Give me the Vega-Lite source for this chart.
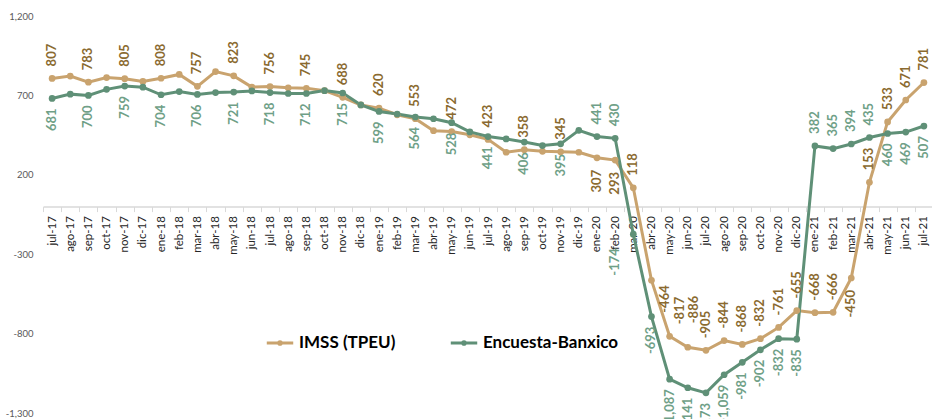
{
  "$schema": "https://vega.github.io/schema/vega-lite/v6.json",
  "autosize": {"type": "none"},
  "width": 890,
  "height": 397,
  "padding": {"left": 43, "top": 16, "right": 0, "bottom": 6},
  "background": "white",
  "config": {
    "view": {"stroke": null},
    "font": "Lato",
    "locale": {"number": {"decimal": ".", "thousands": ",", "grouping": [3], "currency": ["$", ""], "minus": "-"}}
  },
  "data": {"values": [
    {"i":0,"mes":"jul-17","IMSS (TPEU)":807,"Encuesta-Banxico":681},
    {"i":1,"mes":"ago-17","IMSS (TPEU)":822,"Encuesta-Banxico":708},
    {"i":2,"mes":"sep-17","IMSS (TPEU)":783,"Encuesta-Banxico":700},
    {"i":3,"mes":"oct-17","IMSS (TPEU)":812,"Encuesta-Banxico":738},
    {"i":4,"mes":"nov-17","IMSS (TPEU)":805,"Encuesta-Banxico":759},
    {"i":5,"mes":"dic-17","IMSS (TPEU)":788,"Encuesta-Banxico":752},
    {"i":6,"mes":"ene-18","IMSS (TPEU)":808,"Encuesta-Banxico":704},
    {"i":7,"mes":"feb-18","IMSS (TPEU)":832,"Encuesta-Banxico":724},
    {"i":8,"mes":"mar-18","IMSS (TPEU)":757,"Encuesta-Banxico":706},
    {"i":9,"mes":"abr-18","IMSS (TPEU)":850,"Encuesta-Banxico":718},
    {"i":10,"mes":"may-18","IMSS (TPEU)":823,"Encuesta-Banxico":721},
    {"i":11,"mes":"jun-18","IMSS (TPEU)":752,"Encuesta-Banxico":728},
    {"i":12,"mes":"jul-18","IMSS (TPEU)":756,"Encuesta-Banxico":718},
    {"i":13,"mes":"ago-18","IMSS (TPEU)":748,"Encuesta-Banxico":712},
    {"i":14,"mes":"sep-18","IMSS (TPEU)":745,"Encuesta-Banxico":712},
    {"i":15,"mes":"oct-18","IMSS (TPEU)":730,"Encuesta-Banxico":730},
    {"i":16,"mes":"nov-18","IMSS (TPEU)":688,"Encuesta-Banxico":715},
    {"i":17,"mes":"dic-18","IMSS (TPEU)":640,"Encuesta-Banxico":640},
    {"i":18,"mes":"ene-19","IMSS (TPEU)":620,"Encuesta-Banxico":599},
    {"i":19,"mes":"feb-19","IMSS (TPEU)":578,"Encuesta-Banxico":583},
    {"i":20,"mes":"mar-19","IMSS (TPEU)":553,"Encuesta-Banxico":564},
    {"i":21,"mes":"abr-19","IMSS (TPEU)":478,"Encuesta-Banxico":553},
    {"i":22,"mes":"may-19","IMSS (TPEU)":472,"Encuesta-Banxico":528},
    {"i":23,"mes":"jun-19","IMSS (TPEU)":452,"Encuesta-Banxico":470},
    {"i":24,"mes":"jul-19","IMSS (TPEU)":423,"Encuesta-Banxico":441},
    {"i":25,"mes":"ago-19","IMSS (TPEU)":342,"Encuesta-Banxico":426},
    {"i":26,"mes":"sep-19","IMSS (TPEU)":358,"Encuesta-Banxico":406},
    {"i":27,"mes":"oct-19","IMSS (TPEU)":348,"Encuesta-Banxico":384},
    {"i":28,"mes":"nov-19","IMSS (TPEU)":345,"Encuesta-Banxico":395},
    {"i":29,"mes":"dic-19","IMSS (TPEU)":342,"Encuesta-Banxico":480},
    {"i":30,"mes":"ene-20","IMSS (TPEU)":307,"Encuesta-Banxico":441},
    {"i":31,"mes":"feb-20","IMSS (TPEU)":293,"Encuesta-Banxico":430},
    {"i":32,"mes":"mar-20","IMSS (TPEU)":118,"Encuesta-Banxico":-174},
    {"i":33,"mes":"abr-20","IMSS (TPEU)":-464,"Encuesta-Banxico":-693},
    {"i":34,"mes":"may-20","IMSS (TPEU)":-817,"Encuesta-Banxico":-1087},
    {"i":35,"mes":"jun-20","IMSS (TPEU)":-886,"Encuesta-Banxico":-1141},
    {"i":36,"mes":"jul-20","IMSS (TPEU)":-905,"Encuesta-Banxico":-1173},
    {"i":37,"mes":"ago-20","IMSS (TPEU)":-844,"Encuesta-Banxico":-1059},
    {"i":38,"mes":"sep-20","IMSS (TPEU)":-868,"Encuesta-Banxico":-981},
    {"i":39,"mes":"oct-20","IMSS (TPEU)":-832,"Encuesta-Banxico":-902},
    {"i":40,"mes":"nov-20","IMSS (TPEU)":-761,"Encuesta-Banxico":-832},
    {"i":41,"mes":"dic-20","IMSS (TPEU)":-655,"Encuesta-Banxico":-835},
    {"i":42,"mes":"ene-21","IMSS (TPEU)":-668,"Encuesta-Banxico":382},
    {"i":43,"mes":"feb-21","IMSS (TPEU)":-666,"Encuesta-Banxico":365},
    {"i":44,"mes":"mar-21","IMSS (TPEU)":-450,"Encuesta-Banxico":394},
    {"i":45,"mes":"abr-21","IMSS (TPEU)":153,"Encuesta-Banxico":435},
    {"i":46,"mes":"may-21","IMSS (TPEU)":533,"Encuesta-Banxico":460},
    {"i":47,"mes":"jun-21","IMSS (TPEU)":671,"Encuesta-Banxico":469},
    {"i":48,"mes":"jul-21","IMSS (TPEU)":781,"Encuesta-Banxico":507}
  ]},
  "transform": [{"fold": ["IMSS (TPEU)", "Encuesta-Banxico"], "as": ["serie", "valor"]}],
  "encoding": {
    "x": {
      "field": "mes", "type": "ordinal", "sort": null,
      "scale": {"type": "band", "paddingInner": 0, "paddingOuter": 0},
      "axis": {
        "title": null, "orient": "bottom", "offset": -206.4,
        "labelAngle": 270, "labelAlign": "right", "labelBaseline": "middle",
        "labelFontSize": 11.5, "labelColor": "#262626", "labelFont": "Lato",
        "labelPadding": 4, "tickBand": "extent", "tickSize": 5,
        "tickColor": "#d9d9d9", "domainColor": "#d9d9d9", "domainWidth": 1.5,
        "grid": false, "labelOverlap": false
      }
    },
    "y": {
      "field": "valor", "type": "quantitative",
      "scale": {"domain": [-1300, 1200], "nice": false, "zero": false},
      "axis": {
        "title": null, "values": [-1300, -800, -300, 200, 700, 1200], "format": ",.0f",
        "grid": false, "domain": false, "ticks": false,
        "labelFontSize": 9.5, "labelColor": "#595959", "labelPadding": 10, "labelFont": "Lato"
      }
    }
  },
  "layer": [
    {
      "mark": {"type": "line", "strokeWidth": 3, "point": {"filled": true, "size": 45}},
      "encoding": {
        "order": {"field": "i", "type": "quantitative"},
        "color": {
          "field": "serie", "type": "nominal",
          "scale": {"domain": ["IMSS (TPEU)", "Encuesta-Banxico"], "range": ["#C9A36E", "#5F9077"]},
          "legend": {
            "orient": "none", "legendX": 222, "legendY": 312, "direction": "horizontal", "title": null,
            "symbolType": "M-1,0H1M-0.1,0A0.1,0.1 0 1 1 0.1,0A0.1,0.1 0 1 1 -0.1,0",
            "symbolSize": 700, "symbolStrokeWidth": 3,
            "labelFontSize": 17, "labelFontWeight": "bold", "labelFont": "Lato", "labelColor": "#000000",
            "columnPadding": 48, "labelOffset": 4
          }
        }
      }
    },
    {
      "transform": [
        {"filter": {"field": "serie", "equal": "IMSS (TPEU)"}},
        {"filter": {"field": "mes", "oneOf": ["jul-17","sep-17","nov-17","ene-18","mar-18","may-18","jul-18","sep-18","nov-18","ene-19","mar-19","may-19","jul-19","sep-19","nov-19","mar-20","jul-20","ago-20","sep-20","oct-20","nov-20","dic-20","ene-21","feb-21","abr-21","may-21","jun-21","jul-21"]}}
      ],
      "mark": {"type": "text", "angle": 270, "align": "left", "baseline": "middle", "dx": 12, "fontSize": 13, "fontWeight": "bold", "font": "Lato", "color": "#8A6A30"},
      "encoding": {"text": {"field": "valor", "type": "quantitative", "format": ","}}
    },
    {
      "transform": [
        {"filter": {"field": "serie", "equal": "IMSS (TPEU)"}},
        {"filter": {"field": "mes", "equal": "may-20"}}
      ],
      "mark": {"type": "text", "angle": 270, "align": "left", "baseline": "middle", "dx": 12, "dy": 10, "fontSize": 13, "fontWeight": "bold", "font": "Lato", "color": "#8A6A30"},
      "encoding": {"text": {"field": "valor", "type": "quantitative", "format": ","}}
    },
    {
      "transform": [
        {"filter": {"field": "serie", "equal": "IMSS (TPEU)"}},
        {"filter": {"field": "mes", "equal": "jun-20"}}
      ],
      "mark": {"type": "text", "angle": 270, "align": "left", "baseline": "middle", "dx": 24, "dy": 6, "fontSize": 13, "fontWeight": "bold", "font": "Lato", "color": "#8A6A30"},
      "encoding": {"text": {"field": "valor", "type": "quantitative", "format": ","}}
    },
    {
      "transform": [
        {"filter": {"field": "serie", "equal": "IMSS (TPEU)"}},
        {"filter": {"field": "mes", "oneOf": ["ene-20","feb-20","mar-21"]}}
      ],
      "mark": {"type": "text", "angle": 270, "align": "right", "baseline": "middle", "dx": -12, "fontSize": 13, "fontWeight": "bold", "font": "Lato", "color": "#8A6A30"},
      "encoding": {"text": {"field": "valor", "type": "quantitative", "format": ","}}
    },
    {
      "transform": [
        {"filter": {"field": "serie", "equal": "IMSS (TPEU)"}},
        {"filter": {"field": "mes", "equal": "abr-20"}}
      ],
      "mark": {"type": "text", "angle": 270, "align": "right", "baseline": "middle", "dx": -5, "dy": 14, "fontSize": 13, "fontWeight": "bold", "font": "Lato", "color": "#8A6A30"},
      "encoding": {"text": {"field": "valor", "type": "quantitative", "format": ","}}
    },
    {
      "transform": [
        {"filter": {"field": "serie", "equal": "Encuesta-Banxico"}},
        {"filter": {"field": "mes", "oneOf": ["ene-20","feb-20","ene-21","feb-21","mar-21","abr-21"]}}
      ],
      "mark": {"type": "text", "angle": 270, "align": "left", "baseline": "middle", "dx": 12, "fontSize": 13, "fontWeight": "bold", "font": "Lato", "color": "#6FA087"},
      "encoding": {"text": {"field": "valor", "type": "quantitative", "format": ","}}
    },
    {
      "transform": [
        {"filter": {"field": "serie", "equal": "Encuesta-Banxico"}},
        {"filter": {"field": "mes", "oneOf": ["jul-17","sep-17","nov-17","ene-18","mar-18","may-18","jul-18","sep-18","nov-18","ene-19","mar-19","may-19","jul-19","sep-19","nov-19","abr-20","may-20","jun-20","jul-20","ago-20","sep-20","oct-20","nov-20","dic-20","may-21","jun-21","jul-21"]}}
      ],
      "mark": {"type": "text", "angle": 270, "align": "right", "baseline": "middle", "dx": -10, "fontSize": 13, "fontWeight": "bold", "font": "Lato", "color": "#6FA087"},
      "encoding": {"text": {"field": "valor", "type": "quantitative", "format": ","}}
    },
    {
      "transform": [
        {"filter": {"field": "serie", "equal": "Encuesta-Banxico"}},
        {"filter": {"field": "mes", "equal": "mar-20"}}
      ],
      "mark": {"type": "text", "angle": 270, "align": "right", "baseline": "middle", "dx": -14, "dy": -18, "fontSize": 13, "fontWeight": "bold", "font": "Lato", "color": "#6FA087"},
      "encoding": {"text": {"field": "valor", "type": "quantitative", "format": ","}}
    }
  ]
}
